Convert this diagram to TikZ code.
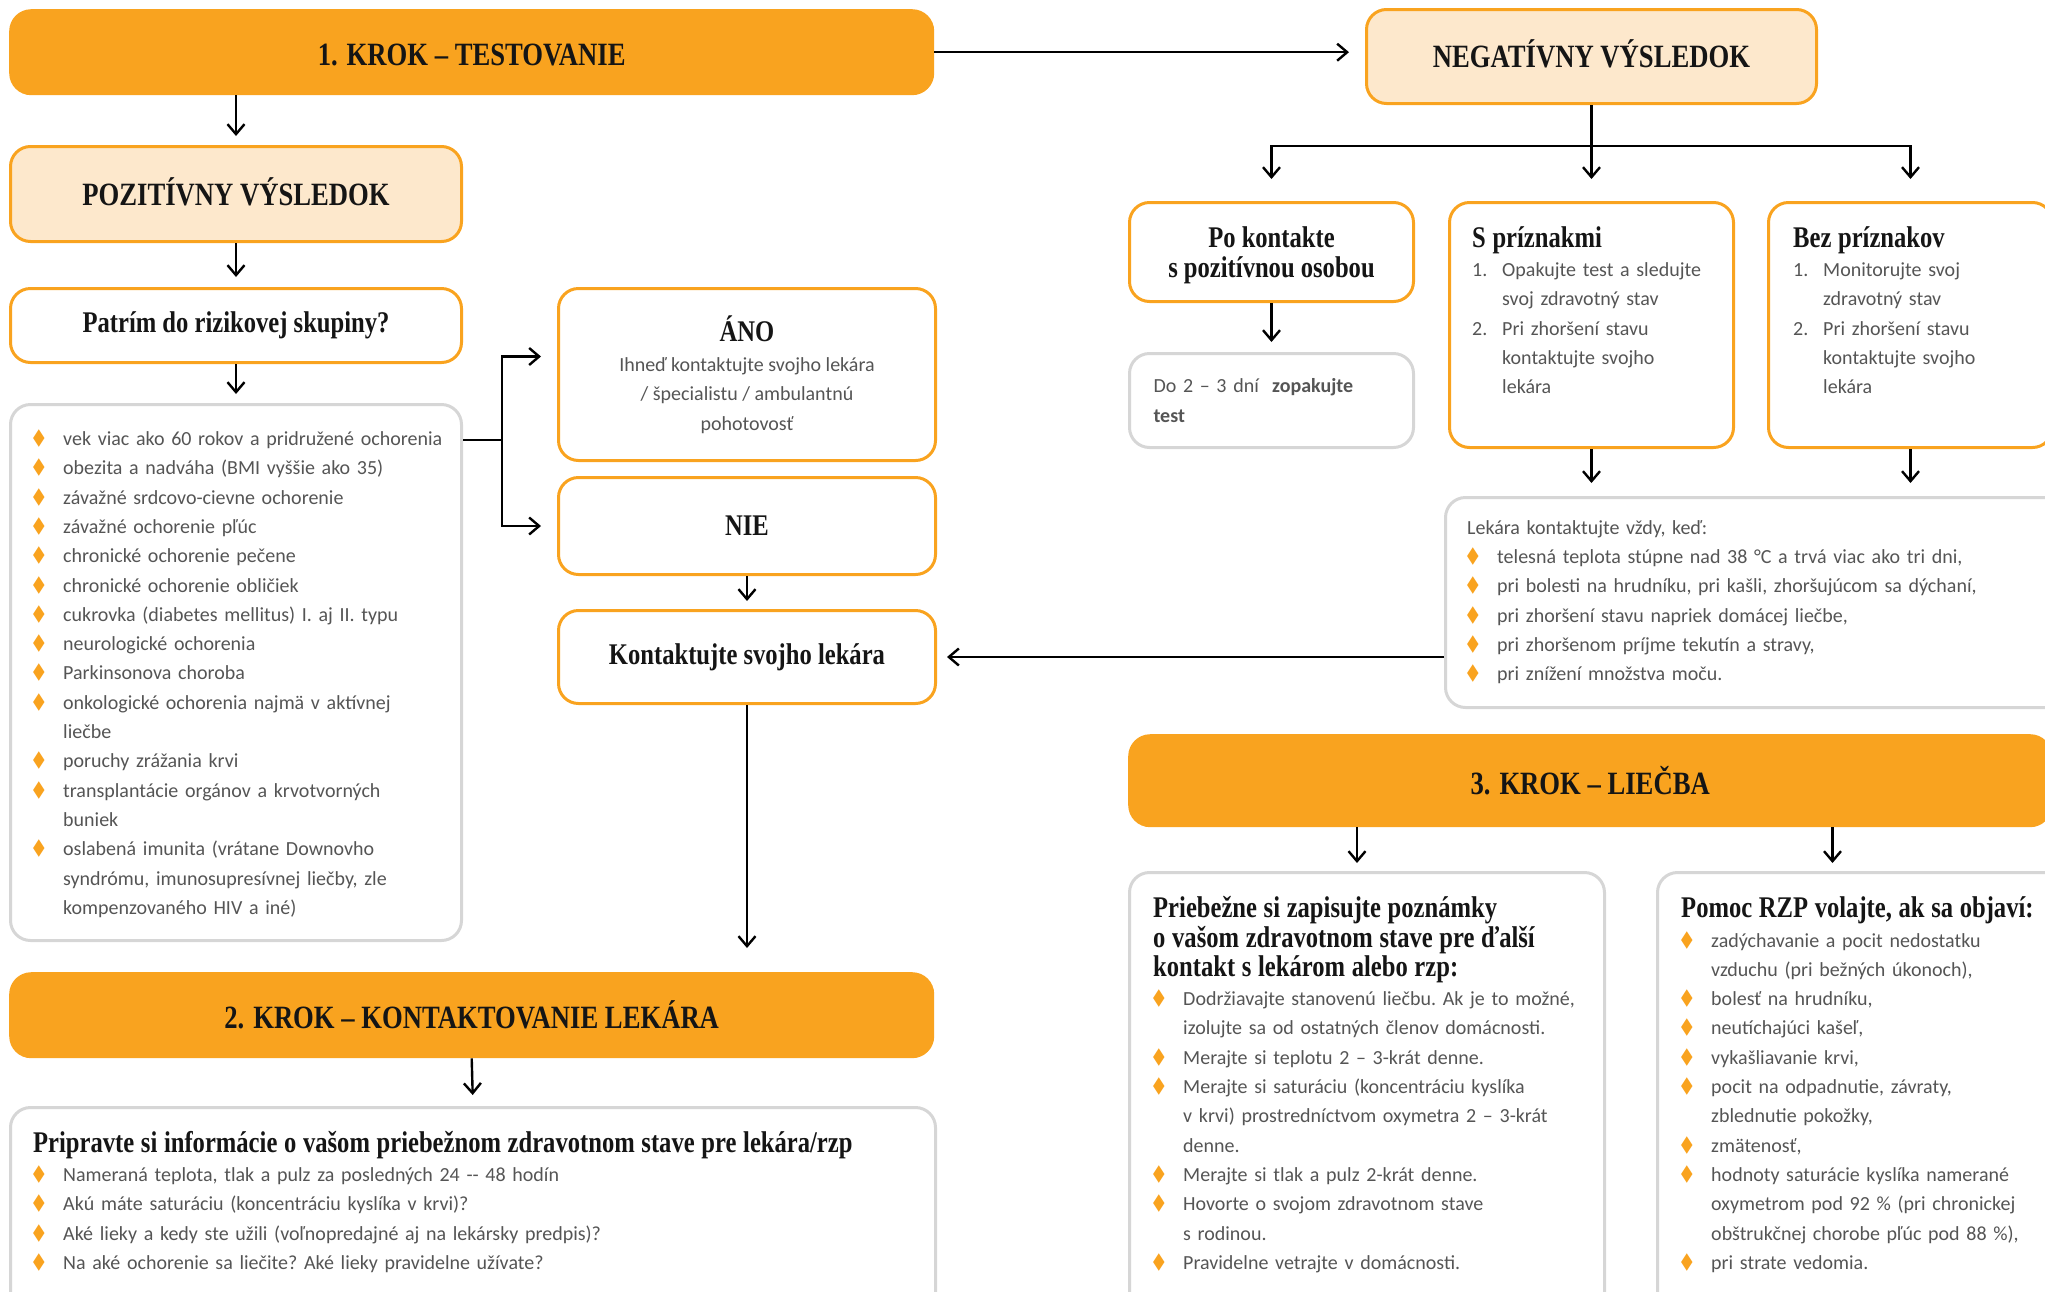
\documentclass[tikz,border=0pt]{standalone}
\usepackage{fontspec}
\usetikzlibrary{arrows.meta}
\newfontfamily\headf[FakeStretch=0.82]{Liberation Serif}
\newfontfamily\bodyf{Carlito}
\newfontfamily\symf{DejaVu Sans}
\definecolor{stepC}{HTML}{F9A31F}
\definecolor{peachC}{HTML}{FDE8CC}
\definecolor{grayC}{HTML}{D6D6D6}
\definecolor{textC}{HTML}{555555}
\definecolor{headC}{HTML}{151515}
\newcommand\bigh{\headf\bfseries\fontsize{32.5}{36}\selectfont}
\newcommand\subh{\headf\bfseries\fontsize{30}{29.3}\selectfont\color{headC}}
\newcommand\bodyt{\bodyf\mdseries\fontsize{20}{29.3}\selectfont\setlength\parindent{0pt}\frenchspacing}
\newcommand\fstrut{\rule{0pt}{28pt}}
\newcommand\dmd{\raisebox{1pt}{\textcolor{stepC}{\symf\scalebox{0.75}[1.15]{◆}}}}
\newcommand\itm{\par\noindent\hangindent=30pt\hangafter=1\makebox[30pt][l]{\dmd}}
\newcommand\numi[1]{\par\noindent\hangindent=30pt\hangafter=1\makebox[30pt][l]{#1}}

\begin{document}
\begin{tikzpicture}[
    x=1pt, y=-1pt,
    stepbox/.style={anchor=north west, fill=stepC, rounded corners=22pt,
      font=\bigh, text=headC, text height=27pt, text depth=0pt},
    resbox/.style={anchor=north west, draw=stepC, line width=3pt, fill=peachC,
      rounded corners=20pt, font=\bigh, text=headC, text height=22pt, text depth=0pt},
    obox/.style={anchor=north west, draw=stepC, line width=3pt, fill=white,
      rounded corners=20pt, font=\subh},
    gbox/.style={anchor=north west, draw=grayC, line width=3pt, fill=white,
      rounded corners=20pt, font=\bodyt, text=textC},
    txt/.style={anchor=north west, inner sep=0pt, font=\bodyt, text=textC},
    ln/.style={line width=2.4pt},
    arr/.style={ln, -{Straight Barb[length=10pt,width=17pt]}}
    ]
  \useasboundingbox (0,0) rectangle (2045,1291);
  \clip (0,0) rectangle (2045,1291);
  % left column
  \node (step1) [stepbox, minimum width=925pt, minimum height=86pt] at (9,9) {1. KROK – TESTOVANIE};
  \node (pos) [resbox, minimum width=451pt, minimum height=95pt] at (9,145) {POZITÍVNY VÝSLEDOK};
  \node (riskq) [obox, minimum width=451pt, minimum height=74pt] at (9,287) {Patrím do rizikovej skupiny?};
  \node (risklist) [gbox, minimum width=451pt, minimum height=536pt] at (9,403) {};
  \node (ano) [obox, minimum width=377pt, minimum height=172pt, text width=340pt, align=flush center] at (557,287)
    {ÁNO\\[1pt] \bodyt\color{textC} Ihneď kontaktujte svojho lekára\\ / špecialistu / ambulantnú\\ pohotovosť};
  \node (nie) [obox, minimum width=377pt, minimum height=97pt] at (557,476) {NIE};
  \node (kontakt) [obox, minimum width=377pt, minimum height=93pt] at (557,609) {Kontaktujte svojho lekára};
  \node (step2) [stepbox, minimum width=925pt, minimum height=86pt] at (9,972) {2. KROK – KONTAKTOVANIE LEKÁRA};
  \node (info) [gbox, minimum width=925pt, minimum height=260pt] at (9,1106) {};
  % right column
  \node (neg) [resbox, minimum width=450pt, minimum height=94pt] at (1365,8) {NEGATÍVNY VÝSLEDOK};
  \node (pokont) [obox, minimum width=284pt, minimum height=99pt, align=center, text depth=0pt] at (1128,201) {Po kontakte\\ s pozitívnou osobou};
  \node (dotest) [gbox, minimum width=284pt, minimum height=94pt, text width=236pt, align=left] at (1128,352)
    {Do 2 – 3 dní\ \ {\bfseries zopakujte}\\ {\bfseries test}};
  \node (sprz) [obox, minimum width=284pt, minimum height=245pt] at (1448,201) {};
  \node (bezprz) [obox, minimum width=284pt, minimum height=245pt] at (1767,201) {};
  \node (lekara) [gbox, minimum width=640pt, minimum height=210pt] at (1444,496) {};
  \node (step3) [stepbox, minimum width=924pt, minimum height=93pt] at (1128,734) {3. KROK – LIEČBA};
  \node (prieb) [gbox, minimum width=475pt, minimum height=460pt] at (1128,871) {};
  \node (pomoc) [gbox, minimum width=420pt, minimum height=460pt] at (1656,871) {};
  % texts
  \node (risktxt) [txt, text width=420pt] at (33,416) {%
    \itm\fstrut vek viac ako 60 rokov a pridružené ochorenia
    \itm obezita a nadváha (BMI vyššie ako 35)
    \itm závažné srdcovo-cievne ochorenie
    \itm závažné ochorenie pľúc
    \itm chronické ochorenie pečene
    \itm chronické ochorenie obličiek
    \itm cukrovka (diabetes mellitus) I. aj II. typu
    \itm neurologické ochorenia
    \itm Parkinsonova choroba
    \itm onkologické ochorenia najmä v aktívnej\newline liečbe
    \itm poruchy zrážania krvi
    \itm transplantácie orgánov a krvotvorných\newline buniek
    \itm oslabená imunita (vrátane Downovho\newline syndrómu, imunosupresívnej liečby, zle\newline kompenzovaného HIV a iné)\par};
  \node (infotxt) [txt, text width=900pt] at (33,1124) {%
    {\subh\fstrut Pripravte si informácie o vašom priebežnom zdravotnom stave pre lekára/rzp\par}
    \itm Nameraná teplota, tlak a pulz za posledných 24 -{}- 48 hodín
    \itm Akú máte saturáciu (koncentráciu kyslíka v krvi)?
    \itm Aké lieky a kedy ste užili (voľnopredajné aj na lekársky predpis)?
    \itm Na aké ochorenie sa liečite? Aké lieky pravidelne užívate?\par};
  \node (sprztxt) [txt, text width=250pt] at (1472,219) {%
    {\subh\fstrut S príznakmi\par}
    \numi{1.}Opakujte test a sledujte\newline svoj zdravotný stav
    \numi{2.}Pri zhoršení stavu\newline kontaktujte svojho\newline lekára\par};
  \node (bezprztxt) [txt, text width=250pt] at (1793,219) {%
    {\subh\fstrut Bez príznakov\par}
    \numi{1.}Monitorujte svoj\newline zdravotný stav
    \numi{2.}Pri zhoršení stavu\newline kontaktujte svojho\newline lekára\par};
  \node (lekaratxt) [txt, text width=560pt] at (1467,506) {%
    \fstrut Lekára kontaktujte vždy, keď:
    \itm telesná teplota stúpne nad 38 °C a trvá viac ako tri dni,
    \itm pri bolesti na hrudníku, pri kašli, zhoršujúcom sa dýchaní,
    \itm pri zhoršení stavu napriek domácej liečbe,
    \itm pri zhoršenom príjme tekutín a stravy,
    \itm pri znížení množstva moču.\par};
  \node (priebtxt) [txt, text width=445pt] at (1153,889.5) {%
    {\subh\fstrut Priebežne si zapisujte poznámky\newline o vašom zdravotnom stave pre ďalší\newline kontakt s lekárom alebo rzp:\par}
    \itm Dodržiavajte stanovenú liečbu. Ak je to možné,\newline izolujte sa od ostatných členov domácnosti.
    \itm Merajte si teplotu 2 – 3-krát denne.
    \itm Merajte si saturáciu (koncentráciu kyslíka\newline v krvi) prostredníctvom oxymetra 2 – 3-krát\newline denne.
    \itm Merajte si tlak a pulz 2-krát denne.
    \itm Hovorte o svojom zdravotnom stave\newline s rodinou.
    \itm Pravidelne vetrajte v domácnosti.\par};
  \node (pomoctxt) [txt, text width=380pt] at (1681,889.5) {%
    {\subh\fstrut Pomoc RZP volajte, ak sa objaví:\par}
    \itm zadýchavanie a pocit nedostatku\newline vzduchu (pri bežných úkonoch),
    \itm bolesť na hrudníku,
    \itm neutíchajúci kašeľ,
    \itm vykašliavanie krvi,
    \itm pocit na odpadnutie, závraty,\newline zblednutie pokožky,
    \itm zmätenosť,
    \itm hodnoty saturácie kyslíka namerané\newline oxymetrom pod 92 \% (pri chronickej\newline obštrukčnej chorobe pľúc pod 88 \%),
    \itm pri strate vedomia.\par};
  % connectors
  \draw[arr, shorten >=16pt] (step1.east) -- (step1.east -| neg.west);
  \draw[arr, shorten >=9pt] (pos.north |- step1.south) -- (pos.north);
  \draw[arr, shorten >=10pt] (pos.south) -- (riskq.north);
  \draw[arr, shorten >=9pt] (riskq.south) -- (risklist.north);
  \coordinate (split) at (502,440);
  \draw[ln] (risklist.east |- split) -- (split);
  \draw[arr, shorten >=16pt] (split) |- ([yshift=18pt]ano.west);
  \draw[arr, shorten >=16pt] (split) |- (nie.west);
  \draw[arr, shorten >=8pt] (nie.south) -- (kontakt.north);
  \draw[arr, shorten >=24pt] (kontakt.south) -- (kontakt.south |- step2.north);
  \draw[arr, shorten >=11pt] (step2.south) -- (info.north);
  \draw[ln] (neg.south) -- ++(0,41) coordinate (fork);
  \draw[arr, shorten >=22pt] (fork) -| (pokont.north);
  \draw[arr, shorten >=22pt] (fork) -- (sprz.north);
  \draw[arr, shorten >=22pt] (fork) -| (bezprz.north);
  \draw[arr, shorten >=10pt] (pokont.south) -- (dotest.north);
  \draw[arr, shorten >=13pt] (sprz.south) -- (sprz.south |- lekara.north);
  \draw[arr, shorten >=13pt] (bezprz.south) -- (bezprz.south |- lekara.north);
  \draw[arr, shorten >=10pt] (lekara.west |- kontakt.east) -- (kontakt.east);
  \draw[arr, shorten >=8pt] ([xshift=-10pt]prieb.north |- step3.south) -- ([xshift=-10pt]prieb.north);
  \draw[arr, shorten >=8pt] ([xshift=-35pt]pomoc.north |- step3.south) -- ([xshift=-35pt]pomoc.north);
\end{tikzpicture}
\end{document}
